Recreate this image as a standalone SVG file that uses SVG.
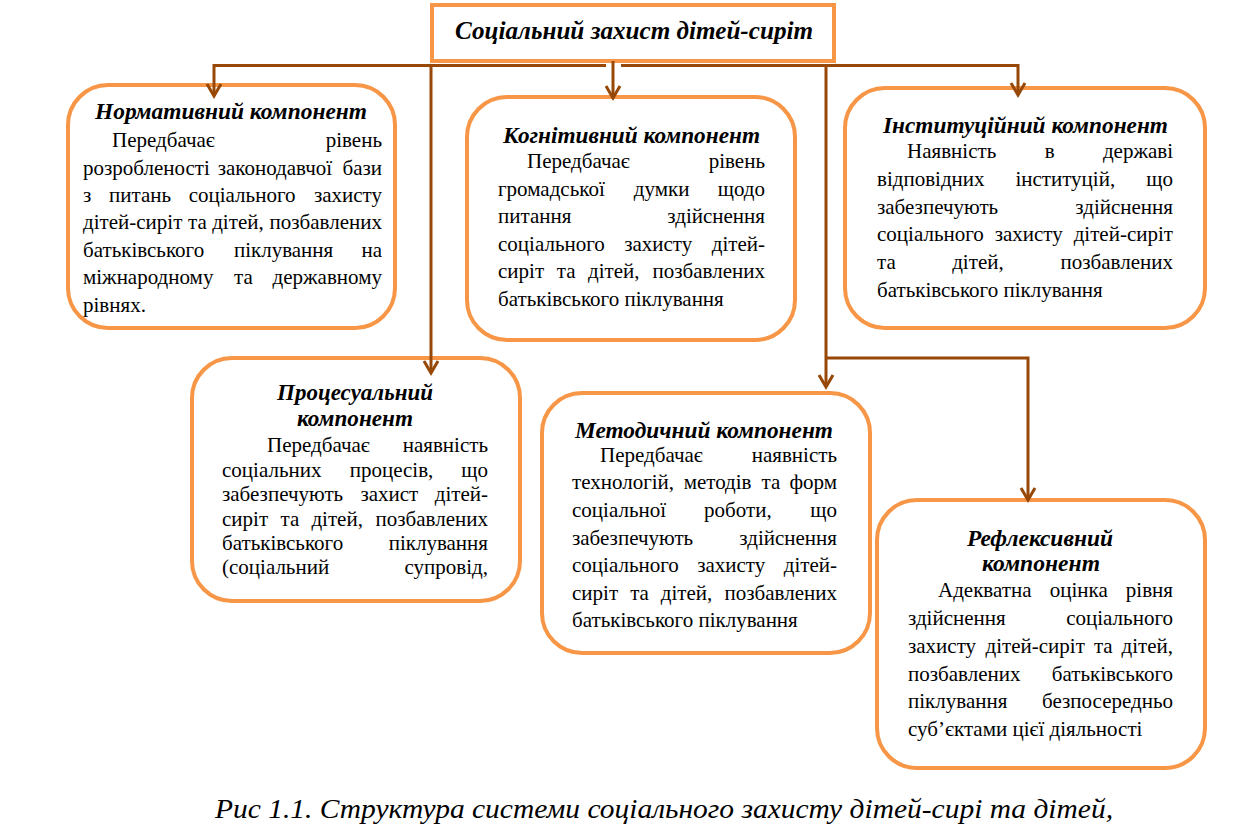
<svg xmlns="http://www.w3.org/2000/svg" width="1233" height="834" viewBox="0 0 1233 834">
<defs>
<style>
.box{fill:#fff;stroke:#F79646;stroke-width:4}
.t{font-family:"Liberation Serif","Times New Roman",serif;font-size:21px;fill:#000}
.h{font-family:"Liberation Serif","Times New Roman",serif;font-size:23.5px;font-weight:bold;font-style:italic;text-anchor:middle;fill:#000}
.e{text-anchor:end}
.c{fill:none;stroke:#974806;stroke-width:3}
</style>
<marker id="ah" viewBox="-14 -9 16 18" refX="0" refY="0" markerWidth="16" markerHeight="18" markerUnits="userSpaceOnUse" orient="auto" overflow="visible">
<path d="M-12,-7 L0,0 L-12,7" fill="none" stroke="#974806" stroke-width="3"/>
</marker>
</defs>
<rect width="1233" height="834" fill="#fff"/>
<g id="root">
<rect x="432" y="5" width="402" height="56" fill="#fff" stroke="#F79646" stroke-width="4"/>
<text x="634" y="39" textLength="358" lengthAdjust="spacingAndGlyphs" style="font-family:'Liberation Serif','Times New Roman',serif;font-size:25px;font-weight:bold;font-style:italic;text-anchor:middle">Соціальний захист дітей-сиріт</text>
</g>
<g id="normative">
<rect class="box" x="68" y="85" width="327" height="243" rx="40"/>
<text class="h" x="231" y="119" textLength="272" lengthAdjust="spacingAndGlyphs">Нормативний компонент</text>
<text class="t" x="112" y="147">Передбачає</text><text class="t e" x="382" y="147">рівень</text>
<text class="t" y="175"><tspan x="83">розробленості</tspan><tspan x="217.7">законодавчої</tspan></text><text class="t e" x="382" y="175">бази</text>
<text class="t" y="202"><tspan x="83">з</tspan><tspan x="109.1">питань</tspan><tspan x="188.7">соціального</tspan></text><text class="t e" x="382" y="202">захисту</text>
<text class="t" y="229"><tspan x="83">дітей-сиріт</tspan><tspan x="188">та</tspan><tspan x="212.2">дітей,</tspan></text><text class="t e" x="382" y="229">позбавлених</text>
<text class="t" y="257"><tspan x="83">батьківського</tspan><tspan x="233.9">піклування</tspan></text><text class="t e" x="382" y="257">на</text>
<text class="t" y="284"><tspan x="83">міжнародному</tspan><tspan x="234.1">та</tspan></text><text class="t e" x="382" y="284">державному</text>
<text class="t" x="83" y="312">рівнях.</text>
</g>
<g id="cognitive">
<rect class="box" x="467" y="97" width="328" height="243" rx="40"/>
<text class="h" x="631.5" y="143" textLength="257" lengthAdjust="spacingAndGlyphs">Когнітивний компонент</text>
<text class="t" x="527" y="168">Передбачає</text><text class="t e" x="765" y="168">рівень</text>
<text class="t" y="196"><tspan x="498">громадської</tspan><tspan x="633.8">думки</tspan></text><text class="t e" x="765" y="196">щодо</text>
<text class="t" x="498" y="223">питання</text><text class="t e" x="765" y="223">здійснення</text>
<text class="t" y="251"><tspan x="498">соціального</tspan><tspan x="624.2">захисту</tspan></text><text class="t e" x="765" y="251">дітей-</text>
<text class="t" y="278"><tspan x="498">сиріт</tspan><tspan x="556.8">та</tspan><tspan x="588">дітей,</tspan></text><text class="t e" x="765" y="278">позбавлених</text>
<text class="t" x="498" y="306">батьківського піклування</text>
</g>
<g id="institutional">
<rect class="box" x="845" y="88" width="360" height="240" rx="40"/>
<text class="h" x="1025.5" y="133" textLength="285" lengthAdjust="spacingAndGlyphs">Інституційний компонент</text>
<text class="t" y="158"><tspan x="907">Наявність</tspan><tspan x="1044.8">в</tspan></text><text class="t e" x="1173" y="158">державі</text>
<text class="t" y="186"><tspan x="877">відповідних</tspan><tspan x="1015.4">інституцій,</tspan></text><text class="t e" x="1173" y="186">що</text>
<text class="t" x="877" y="214">забезпечують</text><text class="t e" x="1173" y="214">здійснення</text>
<text class="t" y="241"><tspan x="877">соціального</tspan><tspan x="994.7">захисту</tspan></text><text class="t e" x="1173" y="241">дітей-сиріт</text>
<text class="t" y="269"><tspan x="877">та</tspan><tspan x="952.2">дітей,</tspan></text><text class="t e" x="1173" y="269">позбавлених</text>
<text class="t" x="877" y="297">батьківського піклування</text>
</g>
<g id="procedural">
<rect class="box" x="192" y="358" width="328" height="243" rx="40"/>
<text class="h" x="355" y="400" textLength="156" lengthAdjust="spacingAndGlyphs">Процесуальний</text>
<text class="h" x="355" y="426" textLength="116" lengthAdjust="spacingAndGlyphs">компонент</text>
<text class="t" x="267" y="452">Передбачає</text><text class="t e" x="488" y="452">наявність</text>
<text class="t" y="477"><tspan x="222">соціальних</tspan><tspan x="349.7">процесів,</tspan></text><text class="t e" x="488" y="477">що</text>
<text class="t" y="501"><tspan x="222">забезпечують</tspan><tspan x="360.4">захист</tspan></text><text class="t e" x="488" y="501">дітей-</text>
<text class="t" y="526"><tspan x="222">сиріт</tspan><tspan x="280.5">та</tspan><tspan x="311.4">дітей,</tspan></text><text class="t e" x="488" y="526">позбавлених</text>
<text class="t" x="222" y="550">батьківського</text><text class="t e" x="488" y="550">піклування</text>
<text class="t" x="222" y="574">(соціальний</text><text class="t e" x="488" y="574">супровід,</text>
</g>
<g id="methodical">
<rect class="box" x="542" y="393" width="328" height="260" rx="40"/>
<text class="h" x="704" y="438" textLength="258" lengthAdjust="spacingAndGlyphs">Методичний компонент</text>
<text class="t" x="600" y="462">Передбачає</text><text class="t e" x="837" y="462">наявність</text>
<text class="t" y="489"><tspan x="572">технологій,</tspan><tspan x="683.7">методів</tspan><tspan x="761.5">та</tspan></text><text class="t e" x="837" y="489">форм</text>
<text class="t" y="517"><tspan x="572">соціальної</tspan><tspan x="704.1">роботи,</tspan></text><text class="t e" x="837" y="517">що</text>
<text class="t" x="572" y="545">забезпечують</text><text class="t e" x="837" y="545">здійснення</text>
<text class="t" y="572"><tspan x="572">соціального</tspan><tspan x="697.2">захисту</tspan></text><text class="t e" x="837" y="572">дітей-</text>
<text class="t" y="600"><tspan x="572">сиріт</tspan><tspan x="630.2">та</tspan><tspan x="660.8">дітей,</tspan></text><text class="t e" x="837" y="600">позбавлених</text>
<text class="t" x="572" y="627">батьківського піклування</text>
</g>
<g id="reflexive">
<rect class="box" x="877" y="500" width="328" height="268" rx="40"/>
<text class="h" x="1040" y="546" textLength="146" lengthAdjust="spacingAndGlyphs">Рефлексивний</text>
<text class="h" x="1041" y="571" textLength="118" lengthAdjust="spacingAndGlyphs">компонент</text>
<text class="t" y="597"><tspan x="938">Адекватна</tspan><tspan x="1049.8">оцінка</tspan></text><text class="t e" x="1173" y="597">рівня</text>
<text class="t" x="908" y="625">здійснення</text><text class="t e" x="1173" y="625">соціального</text>
<text class="t" y="653"><tspan x="908">захисту</tspan><tspan x="985.5">дітей-сиріт</tspan><tspan x="1093.9">та</tspan></text><text class="t e" x="1173" y="653">дітей,</text>
<text class="t" x="908" y="681">позбавлених</text><text class="t e" x="1173" y="681">батьківського</text>
<text class="t" x="908" y="708">піклування</text><text class="t e" x="1173" y="708">безпосередньо</text>
<text class="t" x="908" y="736">суб’єктами цієї діяльності</text>
</g>
<g id="connectors">
<path class="c" d="M214,65.5 H606 M621,65.5 H1018"/>
<path class="c" d="M214,64 V96" marker-end="url(#ah)"/>
<path class="c" d="M1018,64 V95" marker-end="url(#ah)"/>
<path class="c" d="M613,61 V98" marker-end="url(#ah)"/>
<path class="c" d="M431,64 V373" marker-end="url(#ah)"/>
<path class="c" d="M826,64 V387" marker-end="url(#ah)"/>
<path class="c" d="M826,358 H1028 V500" marker-end="url(#ah)"/>
</g>
<g id="caption">
<text x="215" y="818" textLength="898" lengthAdjust="spacingAndGlyphs" style="font-family:'Liberation Serif','Times New Roman',serif;font-size:28px;font-style:italic">Рис 1.1. Структура системи соціального захисту дітей-сирі та дітей,</text>
</g>
</svg>
